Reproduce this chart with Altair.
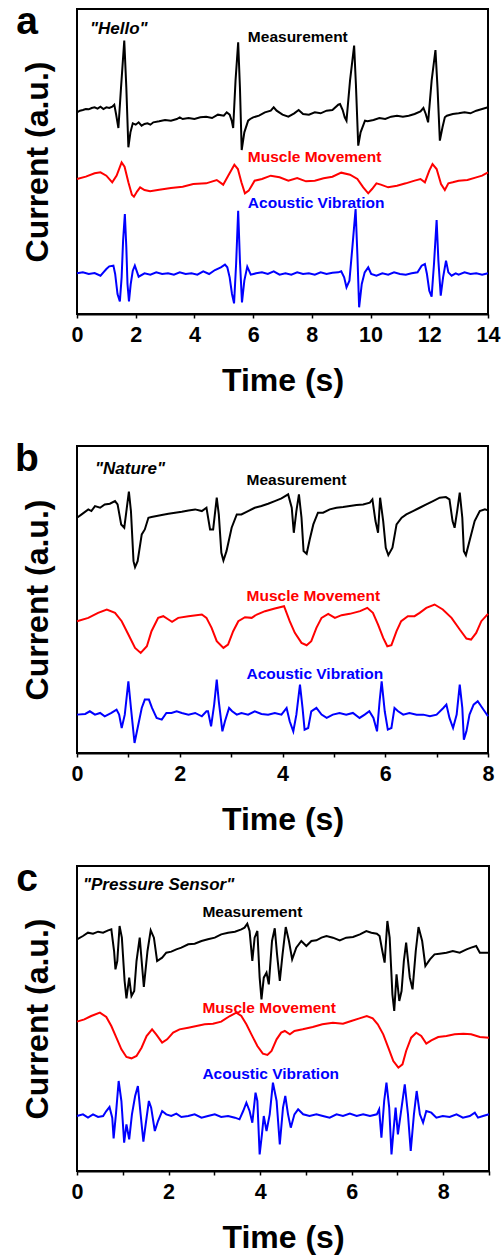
import altair as alt
import pandas as pd

SERIES = ["Measurement", "Muscle Movement", "Acoustic Vibration"]
COLORS = ["#000000", "#ff0000", "#0000ff"]

# ---------------- Panel a: "Hello" (time s, current a.u.) ----------------
A_MEAS = [(0.0,605),(0.1,610),(0.2,612),(0.3,615),(0.4,614),(0.5,618),(0.6,620),(0.7,616),(0.8,622),(0.9,615),
          (1.0,620),(1.1,618),(1.2,622),(1.27,628),(1.33,600),(1.41,558),(1.5,680),(1.61,820),(1.68,680),(1.75,500),
          (1.82,545),(1.9,572),(2.0,568),(2.1,575),(2.2,565),(2.3,570),(2.4,572),(2.5,568),(2.6,575),(2.8,578),
          (3.0,582),(3.2,580),(3.4,585),(3.5,590),(3.6,585),(3.8,588),(4.0,585),(4.2,590),(4.4,592),(4.6,588),
          (4.8,598),(5.0,595),(5.1,605),(5.2,598),(5.27,580),(5.32,558),(5.4,700),(5.49,815),(5.55,680),(5.61,492),
          (5.7,545),(5.83,580),(5.9,585),(6.0,590),(6.2,595),(6.4,605),(6.6,610),(6.7,620),(6.8,610),(7.0,598),
          (7.2,592),(7.4,602),(7.55,612),(7.7,600),(7.9,598),(8.1,605),(8.3,602),(8.5,610),(8.7,612),(8.9,628),
          (8.96,630),(9.05,612),(9.12,590),(9.18,580),(9.3,700),(9.44,805),(9.5,690),(9.58,505),(9.66,545),(9.81,580),
          (9.9,578),(10.1,582),(10.3,588),(10.5,585),(10.7,592),(10.9,595),(11.1,592),(11.3,595),(11.5,600),(11.7,608),
          (11.8,618),(11.88,600),(11.96,575),(12.08,700),(12.21,792),(12.28,680),(12.36,520),(12.45,560),(12.53,590),
          (12.6,595),(12.8,600),(13.0,602),(13.2,605),(13.4,602),(13.6,610),(13.8,615),(14.0,620)]
A_MUSC = [(0.0,405),(0.3,412),(0.6,422),(0.8,425),(1.0,415),(1.2,395),(1.35,415),(1.52,455),(1.62,442),(1.75,395),
          (1.87,358),(1.94,352),(2.05,368),(2.15,380),(2.3,372),(2.49,368),(2.8,373),(3.2,378),(3.6,382),(3.96,390),
          (4.4,392),(4.76,402),(4.98,388),(5.15,415),(5.36,448),(5.48,435),(5.6,395),(5.72,362),(5.85,370),(5.95,385),
          (6.05,400),(6.3,405),(6.6,415),(6.9,410),(7.2,400),(7.5,408),(7.8,398),(8.1,400),(8.4,407),(8.7,412),
          (9.0,424),(9.3,418),(9.55,405),(9.75,380),(9.92,362),(10.05,375),(10.2,392),(10.35,388),(10.6,380),(10.9,385),
          (11.2,392),(11.5,400),(11.7,405),(11.85,395),(12.0,430),(12.11,450),(12.25,435),(12.4,390),(12.53,372),
          (12.65,392),(12.8,395),(13.0,400),(13.3,402),(13.6,410),(13.8,415),(14.0,425)]
A_ACOU = [(0.0,122),(0.2,125),(0.4,120),(0.6,123),(0.8,115),(0.9,125),(1.0,135),(1.1,143),(1.24,145),(1.3,120),
          (1.38,60),(1.46,38),(1.52,110),(1.57,220),(1.63,300),(1.68,200),(1.72,90),(1.77,38),(1.83,90),(1.9,130),
          (1.97,145),(2.05,125),(2.1,112),(2.3,122),(2.5,118),(2.7,125),(2.9,120),(3.1,122),(3.3,118),(3.5,125),
          (3.7,120),(3.9,122),(4.1,118),(4.3,128),(4.5,120),(4.7,132),(4.9,140),(5.04,148),(5.12,140),(5.2,110),
          (5.28,60),(5.35,32),(5.42,150),(5.49,310),(5.55,160),(5.62,35),(5.7,100),(5.8,142),(5.92,118),(6.1,122),
          (6.3,125),(6.5,120),(6.7,128),(6.9,118),(7.1,122),(7.3,118),(7.5,125),(7.7,120),(7.9,122),(8.1,118),
          (8.3,125),(8.5,120),(8.7,124),(8.9,125),(9.0,128),(9.1,110),(9.18,80),(9.28,100),(9.38,200),(9.49,315),
          (9.55,180),(9.61,20),(9.7,90),(9.8,125),(9.92,140),(10.02,120),(10.2,115),(10.4,122),(10.6,118),(10.8,125),
          (11.0,120),(11.2,118),(11.4,122),(11.6,125),(11.74,145),(11.85,150),(11.92,120),(12.0,70),(12.08,52),
          (12.16,150),(12.25,282),(12.31,160),(12.39,55),(12.47,110),(12.57,160),(12.65,125),(12.76,115),(12.9,122),
          (13.0,118),(13.2,125),(13.4,120),(13.6,122),(13.8,118),(14.0,122)]
A_LABELS = [(5.82,816),(5.82,455),(5.82,318)]
A_WORD = ("\"Hello\"", 0.44, 840)

# ---------------- Panel b: "Nature" ----------------
B_MEAS = [(0.0,705),(0.09,715),(0.22,730),(0.28,725),(0.35,740),(0.45,735),(0.54,745),(0.64,747),(0.74,755),(0.79,745),
          (0.86,685),(0.92,675),(0.97,735),(1.01,783),(1.05,725),(1.10,575),(1.13,557),(1.18,575),(1.26,655),(1.32,670),
          (1.39,705),(1.45,707),(1.55,710),(1.65,713),(1.78,717),(1.91,720),(2.04,723),(2.17,727),(2.30,730),(2.43,725),
          (2.52,735),(2.59,670),(2.65,670),(2.72,765),(2.76,715),(2.81,600),(2.85,577),(2.91,605),(3.01,675),(3.11,715),
          (3.20,715),(3.33,725),(3.46,735),(3.59,740),(3.72,747),(3.85,755),(3.98,763),(4.11,775),(4.18,735),(4.22,660),
          (4.27,725),(4.32,775),(4.37,705),(4.41,605),(4.47,597),(4.53,640),(4.60,685),(4.69,720),(4.79,720),(4.92,730),
          (5.05,735),(5.18,737),(5.31,740),(5.44,743),(5.57,745),(5.70,750),(5.75,760),(5.81,695),(5.86,660),(5.90,765),
          (5.96,695),(6.01,615),(6.06,593),(6.14,615),(6.22,685),(6.32,705),(6.41,715),(6.54,725),(6.67,735),(6.80,745),
          (6.93,755),(7.06,765),(7.18,767),(7.25,760),(7.31,695),(7.35,675),(7.40,725),(7.45,780),(7.50,705),(7.53,605),
          (7.57,593),(7.64,635),(7.74,695),(7.84,725),(7.94,730),(8.0,727)]
B_MUSC = [(0.0,395),(0.22,405),(0.41,420),(0.58,430),(0.74,420),(0.87,395),(1.00,355),(1.13,315),(1.24,300),(1.36,320),
          (1.45,365),(1.58,405),(1.68,410),(1.78,400),(1.85,393),(1.97,405),(2.17,410),(2.43,415),(2.52,405),(2.62,375),
          (2.72,335),(2.85,315),(2.94,325),(3.04,365),(3.14,395),(3.27,407),(3.40,405),(3.50,415),(3.66,425),(3.85,433),
          (4.03,440),(4.14,395),(4.24,360),(4.37,330),(4.47,323),(4.56,335),(4.66,375),(4.76,405),(4.89,417),(5.02,405),
          (5.15,413),(5.31,417),(5.51,425),(5.65,435),(5.76,420),(5.86,385),(5.96,345),(6.04,320),(6.12,323),(6.22,365),
          (6.31,395),(6.44,410),(6.57,410),(6.67,420),(6.80,435),(6.96,445),(7.12,430),(7.29,405),(7.45,370),(7.58,343),
          (7.67,340),(7.77,360),(7.87,395),(8.0,417)]
B_ACOU = [(0.0,115),(0.16,117),(0.25,125),(0.35,115),(0.45,120),(0.54,110),(0.67,120),(0.77,130),(0.82,115),(0.87,75),
          (0.93,115),(1.00,215),(1.05,135),(1.12,30),(1.18,75),(1.26,135),(1.32,160),(1.40,160),(1.46,135),(1.55,105),
          (1.65,100),(1.74,120),(1.84,120),(1.94,125),(2.04,120),(2.17,115),(2.30,120),(2.43,110),(2.52,125),(2.55,125),
          (2.61,80),(2.67,145),(2.72,220),(2.76,155),(2.83,65),(2.88,95),(2.96,135),(3.02,125),(3.11,115),(3.20,120),
          (3.33,115),(3.46,125),(3.59,117),(3.72,115),(3.85,120),(3.98,115),(4.08,135),(4.14,95),(4.21,65),(4.27,115),
          (4.34,205),(4.39,135),(4.43,70),(4.50,75),(4.56,125),(4.66,135),(4.76,115),(4.86,105),(4.98,115),(5.11,120),
          (5.24,115),(5.37,120),(5.50,105),(5.60,115),(5.69,125),(5.77,105),(5.84,65),(5.89,155),(5.93,215),(5.99,125),
          (6.05,70),(6.12,75),(6.18,135),(6.25,125),(6.35,115),(6.47,120),(6.61,115),(6.74,115),(6.87,110),(7.00,115),
          (7.13,135),(7.19,145),(7.25,105),(7.32,75),(7.39,115),(7.45,205),(7.50,135),(7.53,40),(7.58,65),(7.64,115),
          (7.72,145),(7.80,155),(7.89,135),(8.0,110)]
B_LABELS = [(3.30,803),(3.30,455),(3.30,223)]
B_WORD = ("\"Nature\"", 0.35, 835)

# ---------------- Panel c: "Pressure Sensor" ----------------
C_MEAS = [(0.0,695),(0.13,705),(0.24,715),(0.35,712),(0.46,718),(0.57,715),(0.68,722),(0.75,725),(0.81,660),(0.84,605),
          (0.88,630),(0.93,735),(0.98,700),(1.04,570),(1.08,518),(1.14,580),(1.19,525),(1.25,540),(1.30,630),(1.37,700),
          (1.46,552),(1.54,660),(1.61,722),(1.68,700),(1.75,630),(1.86,640),(1.95,655),(2.06,658),(2.17,665),(2.28,670),
          (2.43,680),(2.57,682),(2.72,690),(2.86,695),(3.01,700),(3.15,710),(3.30,715),(3.45,718),(3.59,725),(3.66,730),
          (3.72,742),(3.77,720),(3.83,630),(3.88,700),(3.94,720),(3.99,580),(4.03,515),(4.08,580),(4.14,595),(4.19,560),
          (4.26,690),(4.32,728),(4.37,650),(4.43,570),(4.49,650),(4.56,732),(4.63,690),(4.70,635),(4.79,670),(4.90,690),
          (5.01,675),(5.12,690),(5.23,692),(5.34,700),(5.45,705),(5.59,700),(5.74,692),(5.88,700),(6.03,702),(6.18,710),
          (6.32,720),(6.43,715),(6.55,712),(6.61,705),(6.67,660),(6.72,625),(6.78,750),(6.83,700),(6.89,530),(6.93,480),
          (6.98,590),(7.04,510),(7.09,540),(7.14,630),(7.19,685),(7.27,580),(7.33,545),(7.40,660),(7.46,732),(7.54,690),
          (7.61,615),(7.71,635),(7.81,650),(7.92,652),(8.07,655),(8.21,660),(8.36,655),(8.51,665),(8.61,670),(8.72,675),
          (8.80,655),(9.0,655)]
C_MUSC = [(0.0,448),(0.16,455),(0.31,465),(0.50,475),(0.64,462),(0.75,435),(0.86,400),(0.97,365),(1.08,342),(1.19,338),
          (1.30,345),(1.41,370),(1.52,405),(1.64,425),(1.73,410),(1.86,385),(1.97,395),(2.10,415),(2.24,425),(2.43,430),
          (2.61,435),(2.79,440),(2.97,442),(3.15,448),(3.34,465),(3.48,475),(3.59,465),(3.70,440),(3.81,410),(3.94,375),
          (4.06,352),(4.16,348),(4.25,360),(4.36,395),(4.46,415),(4.54,420),(4.65,410),(4.75,420),(4.93,425),(5.15,432),
          (5.36,440),(5.59,445),(5.81,442),(5.99,450),(6.17,458),(6.33,465),(6.46,458),(6.57,440),(6.69,410),(6.80,370),
          (6.91,330),(7.02,310),(7.11,320),(7.19,360),(7.30,400),(7.41,415),(7.52,405),(7.63,382),(7.74,392),(7.89,402),
          (8.07,405),(8.25,410),(8.44,412),(8.61,410),(8.80,402),(9.0,400)]
C_ACOU = [(0.0,165),(0.13,170),(0.24,160),(0.35,170),(0.46,162),(0.57,165),(0.64,180),(0.71,192),(0.77,160),(0.80,98),
          (0.85,170),(0.91,270),(0.97,210),(1.03,85),(1.08,140),(1.14,95),(1.20,170),(1.27,225),(1.33,255),(1.39,170),
          (1.45,88),(1.51,150),(1.57,210),(1.62,190),(1.70,120),(1.77,150),(1.86,180),(1.95,170),(2.06,165),(2.17,172),
          (2.28,162),(2.43,165),(2.57,170),(2.72,160),(2.86,165),(3.01,170),(3.15,162),(3.30,165),(3.45,160),(3.55,155),
          (3.63,180),(3.70,205),(3.77,180),(3.83,145),(3.90,235),(3.94,210),(3.99,50),(4.04,110),(4.08,165),(4.14,120),
          (4.21,170),(4.28,265),(4.36,210),(4.43,80),(4.50,190),(4.55,225),(4.61,170),(4.67,130),(4.75,170),(4.83,185),
          (4.94,170),(5.08,165),(5.23,170),(5.37,165),(5.52,160),(5.67,170),(5.81,165),(5.96,172),(6.11,165),(6.25,170),
          (6.40,165),(6.55,170),(6.60,185),(6.65,100),(6.71,210),(6.76,265),(6.82,190),(6.87,50),(6.92,130),(6.96,190),
          (7.01,110),(7.09,190),(7.16,260),(7.23,170),(7.29,60),(7.36,170),(7.42,240),(7.49,170),(7.56,145),(7.63,180),
          (7.74,175),(7.85,160),(7.99,165),(8.14,162),(8.29,170),(8.43,160),(8.58,165),(8.69,175),(8.76,160),(8.87,165),
          (9.0,170)]
C_LABELS = [(2.74,762),(2.74,475),(2.74,275)]
C_WORD = ("\"Pressure Sensor\"", 0.13, 843)

FONT = "Liberation Sans"
color = alt.Color("series:N", scale=alt.Scale(domain=SERIES, range=COLORS), legend=None)


def panel(letter, traces, labels, word, xmax, ymax, width, height):
    rows = []
    for name, pts in zip(SERIES, traces):
        for t, v in pts:
            rows.append({"t": t, "v": v, "series": name})
    df = pd.DataFrame(rows)
    lab = pd.DataFrame([{"t": t, "v": v, "series": n} for n, (t, v) in zip(SERIES, labels)])
    wdf = pd.DataFrame([{"t": word[1], "v": word[2], "text": word[0]}])

    x = alt.X("t:Q", scale=alt.Scale(domain=[0, xmax], nice=False, zero=False),
              axis=alt.Axis(values=list(range(0, xmax + 1)),
                            labelExpr="datum.value % 2 == 0 ? datum.label : ''",
                            title="Time (s)", grid=False, labelFlush=False,
                            labelOverlap=False, labelBound=False))
    y = alt.Y("v:Q", scale=alt.Scale(domain=[0, ymax], nice=False, zero=False),
              axis=alt.Axis(labels=False, ticks=False, domain=False, grid=False,
                            title="Current (a.u.)", titlePadding=23))

    lines = alt.Chart(df).mark_line(strokeWidth=2).encode(x=x, y=y, color=color)
    texts = alt.Chart(lab).mark_text(align="left", baseline="alphabetic", fontSize=15.5,
                                     fontWeight="bold", font=FONT).encode(
        x="t:Q", y="v:Q", text="series:N", color=color)
    wtxt = alt.Chart(wdf).mark_text(align="left", baseline="alphabetic", fontSize=17,
                                    fontWeight="bold", fontStyle="italic", font=FONT,
                                    color="#000000").encode(x="t:Q", y="v:Q", text="text:N")
    ltxt = alt.Chart(pd.DataFrame({"letter": [letter]})).mark_text(
        align="center", baseline="alphabetic", fontSize=39, fontWeight="bold", font=FONT,
        color="#000000").encode(x=alt.value(-50), y=alt.value(25), text="letter:N")
    return alt.layer(lines, texts, wtxt, ltxt).properties(width=width, height=height)


def spacer(h):
    return alt.Chart(pd.DataFrame({"s": [0]})).mark_point(opacity=0).encode(
        x=alt.X("s:Q", axis=None), y=alt.Y("s:Q", axis=None)
    ).properties(width=411, height=h, view=alt.ViewBackground(stroke="transparent"))


pa = panel("a", [A_MEAS, A_MUSC, A_ACOU], A_LABELS, A_WORD, 14, 915, 411, 305)
pb = panel("b", [B_MEAS, B_MUSC, B_ACOU], B_LABELS, B_WORD, 8, 920, 411, 307)
pc = panel("c", [C_MEAS, C_MUSC, C_ACOU], C_LABELS, C_WORD, 9, 915, 412, 305)

chart = alt.vconcat(pa, spacer(132), pb, spacer(113), pc, spacing=0, bounds="flush").properties(
    padding={"left": 14, "top": 2, "right": 0, "bottom": 0}
).configure(font=FONT).configure_view(stroke="#000000", strokeWidth=2).configure_axis(
    labelFont=FONT, titleFont=FONT, labelFontSize=21.5, labelFontWeight="bold",
    titleFontSize=32, titleFontWeight="bold", labelColor="#000000", titleColor="#000000",
    tickColor="#000000", tickSize=4, tickWidth=1.5, domainColor="#000000", domainWidth=2,
    labelPadding=6, titlePadding=20
)

chart.save("out.html", embed_options={"renderer": "svg", "actions": False})
